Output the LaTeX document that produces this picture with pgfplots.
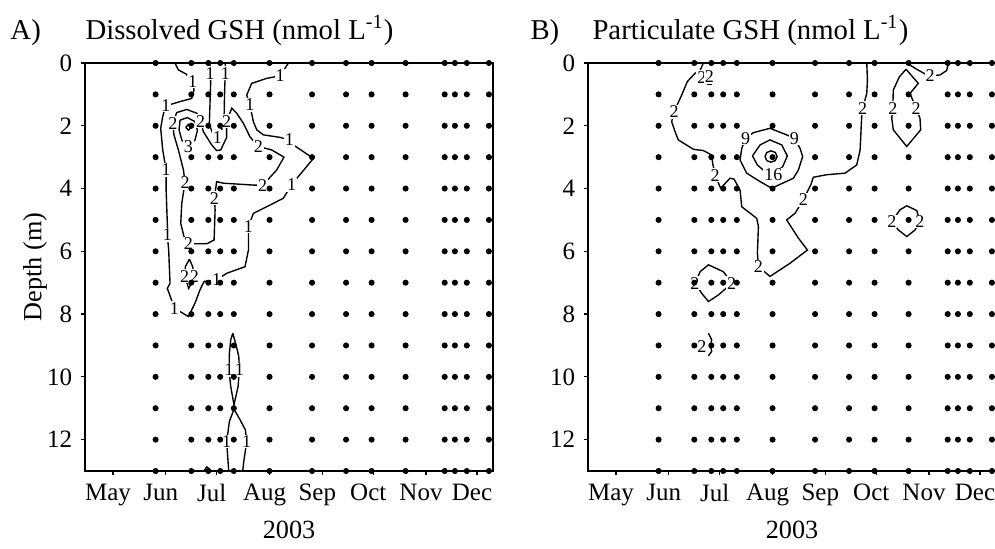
\documentclass[border=0pt]{standalone}
\usepackage{fontspec}
\setmainfont{Liberation Serif}
\usepackage{pgfplots}
\pgfplotsset{compat=1.18}
\usepackage{pgfplotstable}

% sampling grid (day of year 2003, depth m)
\pgfplotstableread[row sep=\\]{
x y\\
146 0\\ 167 0\\ 177 0\\ 184 0\\ 192 0\\ 213 0\\ 238 0\\ 258 0\\ 273 0\\ 293 0\\ 316 0\\ 322 0\\ 329 0\\ 342 0\\
146 1\\ 167 1\\ 177 1\\ 184 1\\ 192 1\\ 213 1\\ 238 1\\ 258 1\\ 273 1\\ 293 1\\ 316 1\\ 322 1\\ 329 1\\ 342 1\\
146 2\\ 167 2\\ 177 2\\ 184 2\\ 192 2\\ 213 2\\ 238 2\\ 258 2\\ 273 2\\ 293 2\\ 316 2\\ 322 2\\ 329 2\\ 342 2\\
146 3\\ 167 3\\ 177 3\\ 184 3\\ 192 3\\ 213 3\\ 238 3\\ 258 3\\ 273 3\\ 293 3\\ 316 3\\ 322 3\\ 329 3\\ 342 3\\
146 4\\ 167 4\\ 177 4\\ 184 4\\ 192 4\\ 213 4\\ 238 4\\ 258 4\\ 273 4\\ 293 4\\ 316 4\\ 322 4\\ 329 4\\ 342 4\\
146 5\\ 167 5\\ 177 5\\ 184 5\\ 192 5\\ 213 5\\ 238 5\\ 258 5\\ 273 5\\ 293 5\\ 316 5\\ 322 5\\ 329 5\\ 342 5\\
146 6\\ 167 6\\ 177 6\\ 184 6\\ 192 6\\ 213 6\\ 238 6\\ 258 6\\ 273 6\\ 293 6\\ 316 6\\ 322 6\\ 329 6\\ 342 6\\
146 7\\ 167 7\\ 177 7\\ 184 7\\ 192 7\\ 213 7\\ 238 7\\ 258 7\\ 273 7\\ 293 7\\ 316 7\\ 322 7\\ 329 7\\ 342 7\\
146 8\\ 167 8\\ 177 8\\ 184 8\\ 192 8\\ 213 8\\ 238 8\\ 258 8\\ 273 8\\ 293 8\\ 316 8\\ 322 8\\ 329 8\\ 342 8\\
146 9\\ 167 9\\ 177 9\\ 184 9\\ 192 9\\ 213 9\\ 238 9\\ 258 9\\ 273 9\\ 293 9\\ 316 9\\ 322 9\\ 329 9\\ 342 9\\
146 10\\ 167 10\\ 177 10\\ 184 10\\ 192 10\\ 213 10\\ 238 10\\ 258 10\\ 273 10\\ 293 10\\ 316 10\\ 322 10\\ 329 10\\ 342 10\\
146 11\\ 167 11\\ 177 11\\ 184 11\\ 192 11\\ 213 11\\ 238 11\\ 258 11\\ 273 11\\ 293 11\\ 316 11\\ 322 11\\ 329 11\\ 342 11\\
146 12\\ 167 12\\ 177 12\\ 184 12\\ 192 12\\ 213 12\\ 238 12\\ 258 12\\ 273 12\\ 293 12\\ 316 12\\ 322 12\\ 329 12\\ 342 12\\
146 13\\ 167 13\\ 177 13\\ 184 13\\ 192 13\\ 213 13\\ 238 13\\ 258 13\\ 273 13\\ 293 13\\ 316 13\\ 322 13\\ 329 13\\ 342 13\\
}\grid

\pgfplotsset{
  gsh/.style={
    width=163.2pt, height=163.2pt, scale only axis,
    xmin=104.5, xmax=344.4, ymin=0, ymax=13, y dir=reverse,
    xtick={121,152,182,213,244,274,305,335},
    xticklabels={May,Jun,Jul,Aug,Sep,Oct,Nov,Dec},
    ytick={0,2,4,6,8,10,12},
    tick pos=left, tick align=outside,
    major tick length=1.6pt,
    tick style={black, line width=0.5pt},
    axis line style={black, line width=0.6pt},
    tick label style={font=\fontsize{10}{11}\selectfont},
    xticklabel style={xshift=-2pt},
    /pgf/number format/assume math mode=true,
  },
  cont/.style={black, line width=0.55pt, mark=none},
  dots/.style={only marks, mark=*, mark size=1pt, black},
}
\tikzset{lab/.style={fill=white, inner sep=0.4pt, font=\fontsize{7.2}{8}\selectfont}}
\newcommand\labs[2]{\foreach \x/\y in {#2}{\edef\tmp{\noexpand\node[lab] at (axis cs:\x,\y) {#1};}\tmp}}

\begin{document}
\begin{tikzpicture}[x=1pt,y=1pt]
\useasboundingbox (0,0) rectangle (398,219.2);
\node[anchor=base west, inner sep=0, font=\fontsize{11.5}{13}\selectfont] at (4,203.5) {A)};
\node[anchor=base west, inner sep=0, font=\fontsize{11.5}{13}\selectfont] at (34,203.5) {Dissolved GSH (nmol L\textsuperscript{-1})};
\node[anchor=base west, inner sep=0, font=\fontsize{11.5}{13}\selectfont] at (212,203.5) {B)};
\node[anchor=base west, inner sep=0, font=\fontsize{11.5}{13}\selectfont] at (236.8,203.5) {Particulate GSH (nmol L\textsuperscript{-1})};
\node[rotate=90, font=\fontsize{10.5}{12}\selectfont] at (14,112.4) {Depth (m)};
\node[font=\fontsize{10.5}{12}\selectfont] at (115.6,7.2) {2003};
\node[font=\fontsize{10.5}{12}\selectfont] at (316.8,7.2) {2003};

% ---------------- Panel A ----------------
\begin{axis}[gsh, at={(34pt,30.8pt)}, anchor=south west]
\addplot[cont] coordinates {(157.4,0) (159.4,0.22) (163.9,0.35) (167.8,0.59) (168.6,0.86) (167.2,1.13) (160.4,1.23) (156.1,1.30) (152.0,1.35) (150.2,1.71) (149.0,2.08) (150.2,2.77) (152.2,3.41) (152.2,4.04) (152.9,5.11) (152.9,5.48) (153.7,5.96) (154.5,7.02) (152.9,7.18) (157.1,7.81) (160.4,7.92) (165.3,8.08) (169.2,7.65) (172.1,7.23) (174.5,6.96) (181.9,6.91) (187.8,6.70) (198.6,6.49) (200.6,5.96) (200.6,5.53) (200.6,5.21) (203.5,4.79) (211.3,4.58) (221.1,4.31) (226.0,3.88) (229.9,3.62) (238.8,3.04) (227.0,2.61) (224.7,2.45) (219.2,2.37) (209.4,2.29) (205.5,2.13) (203.5,1.87) (201.5,1.34) (199.6,1.02) (202.5,0.65) (211.3,0.49) (219.2,0.41) (221.5,0.22) (224.1,0)};
\addplot[cont] coordinates {(178.0,0) (178.0,0.33) (178.4,0.59) (178.0,1.28) (177.6,1.97) (179.6,2.24) (182.3,2.37) (184.9,2.13) (186.3,1.71) (186.6,0.86) (187.0,0.33) (187.0,0)};
\addplot[cont] coordinates {(172.5,1.85) (174.1,2.19) (179.0,2.61) (181.9,2.79) (184.3,2.77) (187.8,2.37) (187.8,1.85) (190.8,1.44) (193.7,1.60) (197.6,1.92) (201.5,2.35) (206.4,2.66) (214.3,2.77) (221.5,3.00) (217.2,3.41) (209.0,3.89) (203.5,3.89) (185.9,3.83) (181.9,3.78) (180.6,4.31) (181.0,4.68) (180.4,5.64) (176.1,5.76) (165.3,5.76) (162.7,5.53) (160.8,5.11) (161.4,4.47) (163.3,3.81) (162.4,3.41) (159.4,2.77) (156.8,2.29) (156.2,1.92) (158.4,1.58) (164.3,1.48) (170.2,1.60) (172.5,1.85)};
\addplot[cont] coordinates {(160.4,1.82) (164.7,1.74) (169.2,1.87) (170.6,2.15) (169.2,2.45) (165.3,2.66) (161.4,2.45) (159.8,2.13) (160.4,1.82)};
\addplot[cont] coordinates {(163.7,2.05) (165.3,1.96) (166.9,2.05) (165.3,2.14) (163.7,2.05)};
\addplot[cont] coordinates {(165.9,6.25) (163.5,6.49) (163.1,6.80) (165.5,7.18) (168.8,6.80) (167.8,6.49) (165.9,6.25)};
\addplot[cont] coordinates {(191.4,8.61) (193.3,8.98) (194.9,9.35) (195.3,9.78) (194.5,10.31) (192.1,10.89) (190.2,10.31) (189.2,9.78) (189.4,9.25) (190.2,8.82) (191.4,8.61)};
\addplot[cont] coordinates {(189.0,13) (188.4,12.54) (187.8,12.06) (189.4,11.42) (192.1,11.03) (195.7,11.37) (198.8,11.69) (199.6,12.06) (198.0,12.64) (197.2,13)};
\addplot[cont] coordinates {(174.5,13) (176.1,12.87) (178.0,12.95)};
\labs{1}{167.8/0.59,152.0/1.35,152.2/3.41,152.9/5.48,157.1/7.81,181.9/6.91,200.6/5.21,226.0/3.88,224.7/2.45,201.5/1.34,219.2/0.41,178.0/0.33,182.3/2.37,187.0/0.33,189.2/9.78,195.3/9.78,187.8/12.06,199.6/12.06}
\labs{2}{172.5/1.85,187.8/1.85,206.4/2.66,209.0/3.89,180.6/4.31,165.3/5.76,163.3/3.81,156.2/1.92,163.1/6.80,168.8/6.80}
\node[lab] at (axis cs:165.3,2.66) {3};
\addplot[dots] table {\grid};
\end{axis}

% ---------------- Panel B ----------------
\begin{axis}[gsh, at={(235.2pt,30.8pt)}, anchor=south west]
\addplot[cont] coordinates {(172.3,0) (170.4,0.24) (167.4,0.33) (162.9,0.59) (159.6,1.02) (155.1,1.55) (153.7,1.87) (155.7,2.19) (157.6,2.45) (166.5,2.75) (172.3,2.79) (177.2,2.93) (177.8,3.20) (179.2,3.57) (182.5,3.99) (188.0,3.67) (190.4,3.70) (193.9,4.05) (194.9,4.58) (203.7,4.95) (204.7,5.21) (204.1,6.06) (204.7,6.49) (211.5,6.80) (223.3,6.38) (233.5,5.96) (228.2,5.58) (221.3,5.00) (226.2,4.79) (231.1,4.36) (235.5,3.88) (237.0,3.64) (244.8,3.56) (255.6,3.51) (262.5,3.25) (264.5,2.77) (265.4,1.71) (266.0,1.44) (268.4,0.97) (268.8,0.54) (268.4,0)};
\addplot[cont] coordinates {(197.2,2.40) (201.7,2.22) (211.5,2.08) (221.3,2.29) (225.8,2.40) (229.2,2.72) (230.7,2.98) (228.2,3.41) (225.3,3.67) (212.5,3.99) (205.7,3.78) (197.8,3.51) (193.9,3.09) (194.9,2.72) (197.2,2.40)};
\addplot[cont] coordinates {(201.2,2.96) (205.7,2.61) (211.5,2.45) (218.4,2.61) (221.7,2.96) (219.0,3.30) (213.5,3.57) (208.6,3.46) (204.1,3.25) (201.2,2.96)};
\addplot[cont] coordinates {(208.6,2.98) (209.6,2.85) (212.1,2.80) (214.6,2.85) (215.7,2.98) (214.6,3.11) (212.1,3.16) (209.6,3.11) (208.6,2.98)};
\addplot[cont] coordinates {(174.3,0.67) (177.2,0.67)};
\addplot[cont] coordinates {(291.9,0) (297.8,0.20) (302.7,0.35) (305.6,0.41) (311.5,0.38) (315.4,0.24) (316.4,0)};
\addplot[cont] coordinates {(291.5,0.20) (298.7,0.65) (293.8,0.97) (297.4,1.44) (299.7,1.76) (300.1,2.13) (291.9,2.66) (284.0,2.13) (283.1,1.76) (283.7,1.44) (284.0,0.86) (287.6,0.44) (291.5,0.20)};
\addplot[cont] coordinates {(287.9,4.68) (291.9,4.55) (297.8,4.70) (299.7,5.05) (296.8,5.32) (291.9,5.53) (287.0,5.32) (283.1,5.05) (287.9,4.68)};
\addplot[cont] coordinates {(167.4,7.02) (170.4,6.65) (175.3,6.43) (184.1,6.65) (187.0,6.86) (189.0,7.02) (181.2,7.39) (175.3,7.60) (171.4,7.34) (167.4,7.02)};
\addplot[cont] coordinates {(175.3,8.61) (177.2,8.82) (176.7,9.03) (177.2,9.19) (175.3,9.33)};
\labs{2}{155.1/1.55,179.2/3.57,204.7/6.49,231.1/4.36,266.0/1.44,171.4/0.46,175.9/0.44,305.6/0.41,297.4/1.44,283.7/1.44,299.7/5.05,283.1/5.05,167.4/7.02,189.0/7.02,171.4/9.03}
\node[lab] at (axis cs:197.2,2.40) {9};
\node[lab] at (axis cs:225.8,2.40) {9};
\node[lab] at (axis cs:213.5,3.57) {16};
\addplot[dots] table {\grid};
\end{axis}
\end{tikzpicture}
\end{document}
